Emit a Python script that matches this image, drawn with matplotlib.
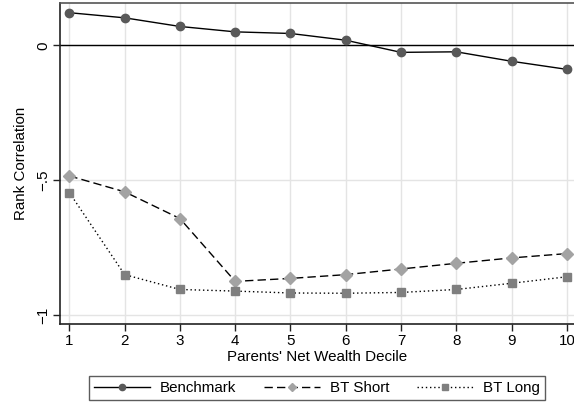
import numpy as np
import matplotlib
matplotlib.use("Agg")
import matplotlib.pyplot as plt

plt.rcParams['font.family'] = ['Liberation Sans', 'DejaVu Sans']

deciles = np.arange(1, 11)
benchmark = [0.121, 0.102, 0.070, 0.050, 0.044, 0.019, -0.026, -0.024, -0.059, -0.089]
bt_short = [-0.484, -0.543, -0.642, -0.875, -0.864, -0.850, -0.829, -0.808, -0.788, -0.772]
bt_long = [-0.546, -0.850, -0.905, -0.911, -0.918, -0.919, -0.916, -0.905, -0.882, -0.858]

ytick_vals = [-1, -0.5, 0]
ytick_labels = ['\u22121', '\u2212.5', '0']

fs = 10.9

fig = plt.figure(figsize=(5.74, 4.04), dpi=100)
ax = fig.add_axes([0.1045, 0.197, 0.8955, 0.7956])

ax.grid(True, color='#e4e4e4', linewidth=1.0, zorder=0)
ax.set_axisbelow(True)
ax.axhline(0, color='black', linewidth=1.0, zorder=2)

ax.plot(deciles, benchmark, color='black', linewidth=1.0, linestyle='-',
        marker='o', markersize=6, markerfacecolor='#595959', markeredgecolor='#595959',
        label='Benchmark', zorder=3)
ax.plot(deciles, bt_short, color='black', linewidth=1.0, linestyle=(0, (6, 3)),
        marker='D', markersize=6, markerfacecolor='#a3a3a3', markeredgecolor='#a3a3a3',
        label='BT Short', zorder=3)
ax.plot(deciles, bt_long, color='black', linewidth=1.0, linestyle=(0, (1, 2)),
        marker='s', markersize=5.5, markerfacecolor='#7f7f7f', markeredgecolor='#7f7f7f',
        label='BT Long', zorder=3)

ax.set_xlim(0.83, 10.13)
ax.set_ylim(-1.0345, 0.157)
ax.set_xticks(deciles)
ax.set_yticks(ytick_vals)
ax.set_yticklabels(ytick_labels, rotation=90, va='center')

ax.spines['right'].set_visible(False)
ax.spines['top'].set_color('#555555')
ax.spines['left'].set_color('#222222')
ax.spines['bottom'].set_color('#222222')
for s in ax.spines.values():
    s.set_linewidth(1.2)

ax.tick_params(axis='both', direction='out', length=5, width=1.0, color='#222222',
               labelsize=fs, pad=2)
ax.set_xlabel("Parents' Net Wealth Decile", fontsize=fs, labelpad=1)
ax.set_ylabel('Rank Correlation', fontsize=fs, labelpad=6)

leg = fig.legend(loc='center', bbox_to_anchor=(0.552, 0.040), ncol=3, fontsize=fs,
                 handlelength=3.7, columnspacing=1.8, handletextpad=0.66,
                 markerscale=0.75, frameon=True, fancybox=False, borderpad=0.35,
                 borderaxespad=0)
leg.get_frame().set_edgecolor('#333333')
leg.get_frame().set_linewidth(1.0)

fig.savefig('out.png', dpi=100)
